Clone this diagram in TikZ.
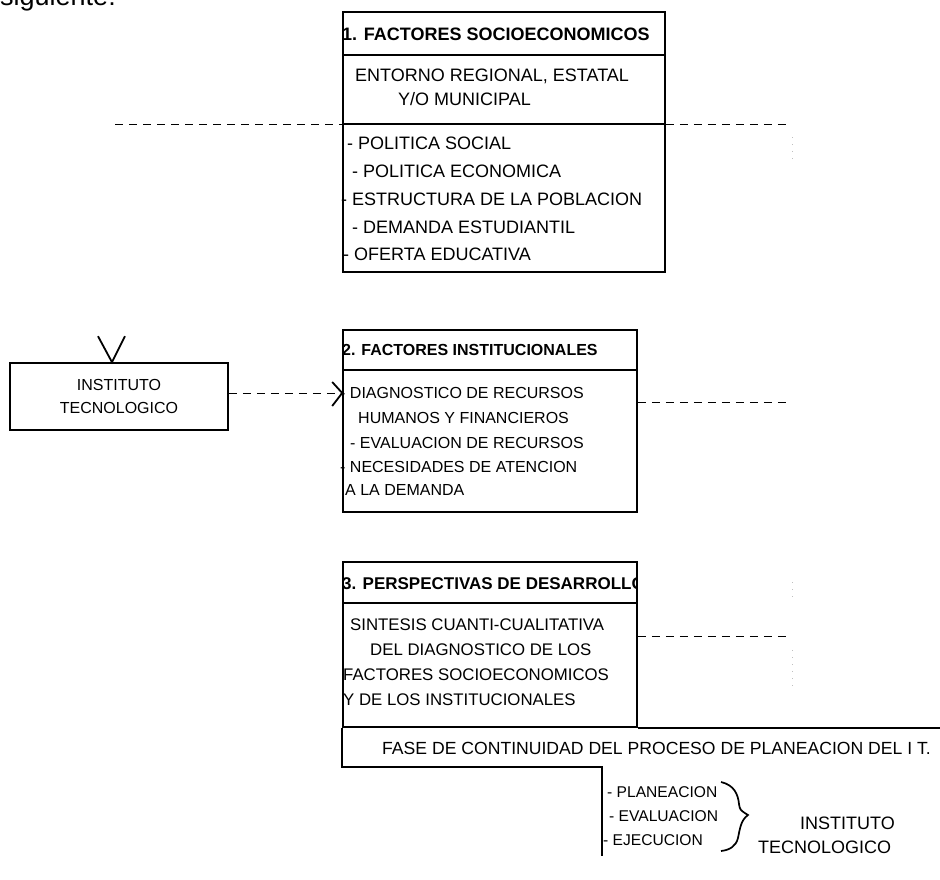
\documentclass[tikz,border=0pt]{standalone}
\usepackage{fontspec}
\setmainfont{Liberation Sans}
\begin{document}
\begin{tikzpicture}[x=1pt,y=-1pt,
  box/.style={draw, line width=1.6pt, rectangle, inner sep=0pt},
  txt/.style={anchor=west, inner sep=0pt, font=\fontsize{16}{19}\selectfont},
  txtA/.style={anchor=west, inner sep=0pt, font=\fontsize{18}{21}\selectfont},
  txtC/.style={anchor=west, inner sep=0pt, font=\fontsize{16.8}{20}\selectfont},
  txtF/.style={anchor=west, inner sep=0pt, font=\fontsize{17.6}{21}\selectfont},
  txtS/.style={anchor=west, inner sep=0pt, font=\fontsize{15.6}{18}\selectfont},
  hdr/.style={anchor=west, inner sep=0pt, font=\fontsize{16}{19}\selectfont\bfseries},
  hdrA/.style={anchor=west, inner sep=0pt, font=\fontsize{18}{21}\selectfont\bfseries},
  hdrC/.style={anchor=west, inner sep=0pt, font=\fontsize{17}{20}\selectfont\bfseries},
  dline/.style={line width=1pt, dash pattern=on 8pt off 6pt},
  solidline/.style={line width=1.6pt},
  faint/.style={gray!50, line width=0.8pt, dash pattern=on 1pt off 6pt}]
\useasboundingbox (0,0) rectangle (940,879);

% top cut-off text
\node[anchor=base west, inner sep=0pt, font=\fontsize{27}{30}\selectfont] (sig) at (0,5) {siguiente:};

% ---------- Box 1
\node[box, minimum width=322pt, minimum height=260pt] (b1) at (504,142) {};
\draw[solidline] (b1.west |- 0,55) -- (b1.east |- 0,55);
\node[hdrA] (h1) at (342,34) {1. FACTORES SOCIOECONOMICOS};
\node[txtA] (t11) at (355,76) {ENTORNO REGIONAL, ESTATAL};
\node[txtA] (t12) at (398,99) {Y/O MUNICIPAL};
\coordinate (L1) at (115,124);
\coordinate (R1) at (790,124);
\draw[dline] (L1) -- (L1 -| b1.west);
\draw[solidline] (L1 -| b1.west) -- (L1 -| b1.east);
\draw[dline] (L1 -| b1.east) -- (R1);
\node[txtA] (t13) at (347,143) {- POLITICA SOCIAL};
\node[txtA] (t14) at (352,171) {- POLITICA ECONOMICA};
\node[txtA] (t15) at (341,199) {- ESTRUCTURA DE LA POBLACION};
\node[txtA] (t16) at (352,227) {- DEMANDA ESTUDIANTIL};
\node[txtA] (t17) at (343,254) {- OFERTA EDUCATIVA};

% ---------- Instituto box
\node[box, minimum width=218pt, minimum height=67pt, align=center,
      font=\fontsize{16}{23}\selectfont] (inst) at (119,396.5) {INSTITUTO\\TECNOLOGICO};
\coordinate (vt) at (inst.north -| 112,0);
\draw[line width=1.8pt] (vt) ++(-14,-26) -- (vt) -- ++(13,-26);

% ---------- Box 2
\node[box, minimum width=294pt, minimum height=182pt] (b2) at (490,421) {};
\draw[solidline] (b2.west |- 0,370) -- (b2.east |- 0,370);
\node[hdr] (h2) at (342,350) {2. FACTORES INSTITUCIONALES};
\coordinate (a2) at (b2.west |- 0,393);
\draw[dline] (inst.east |- a2) -- (a2);
\draw[line width=1.8pt] (a2) ++(-10,-11) -- (a2) -- ++(-10,13);
\node[txt] (t21) at (340,393) {- DIAGNOSTICO DE RECURSOS};
\node[txt] (t22) at (358,418) {HUMANOS Y FINANCIEROS};
\node[txt] (t23) at (350,443) {- EVALUACION DE RECURSOS};
\node[txt] (t24) at (340,467) {- NECESIDADES DE ATENCION};
\node[txt] (t25) at (345,490) {A LA DEMANDA};
\coordinate (R2) at (790,402);
\draw[dline] (b2.east |- R2) -- (R2);

% ---------- Box 3
\node[box, minimum width=294pt, minimum height=165pt] (b3) at (490,644.5) {};
\draw[solidline] (b3.west |- 0,603) -- (b3.east |- 0,603);
\begin{scope}
  \clip (300,560) rectangle (b3.east |- 0,603);
  \node[hdrC] (h3) at (342,584) {3. PERSPECTIVAS DE DESARROLLO};
\end{scope}
\node[txtC] (t31) at (350,625) {SINTESIS CUANTI-CUALITATIVA};
\node[txtC] (t32) at (370,650) {DEL DIAGNOSTICO DE LOS};
\node[txtC] (t33) at (343,675) {FACTORES SOCIOECONOMICOS};
\node[txtC] (t34) at (343,700) {Y DE LOS INSTITUCIONALES};
\coordinate (R3) at (790,636);
\draw[dline] (b3.east |- R3) -- (R3);

% faint dotted marks at the right
\draw[faint] (792,137) -- (792,162);
\draw[faint] (792,582) -- (792,602);
\draw[faint] (792,650) -- (792,692);

% ---------- Fase de continuidad
\coordinate (fend) at (945,727);
\coordinate (fbl) at (343,767);
\coordinate (fc) at (602,767);
\coordinate (fd) at (602,856);
\draw[solidline] (b3.south east) -- (b3.south east -| fend);
\draw[solidline] (b3.south west) -- (b3.south west |- fbl) -- (fc) -- (fd);
\node[txtF] (tf) at (382,748) {FASE DE CONTINUIDAD DEL PROCESO DE PLANEACION DEL I T.};

\node[txtS] (p1) at (607,792) {- PLANEACION};
\node[txtS] (p2) at (609,816) {- EVALUACION};
\node[txtS] (p3) at (603,840) {- EJECUCION};
\draw[line width=1.7pt] (721,782) .. controls (734,785) and (738,794) .. (739,804)
   .. controls (740,810) .. (748,815)
   .. controls (741,820) and (740,828) .. (738,838)
   .. controls (736,846) and (730,850) .. (721,851);
\node[txtA] (i1) at (800,823) {INSTITUTO};
\node[txtA] (i2) at (758,847) {TECNOLOGICO};
\end{tikzpicture}
\end{document}
